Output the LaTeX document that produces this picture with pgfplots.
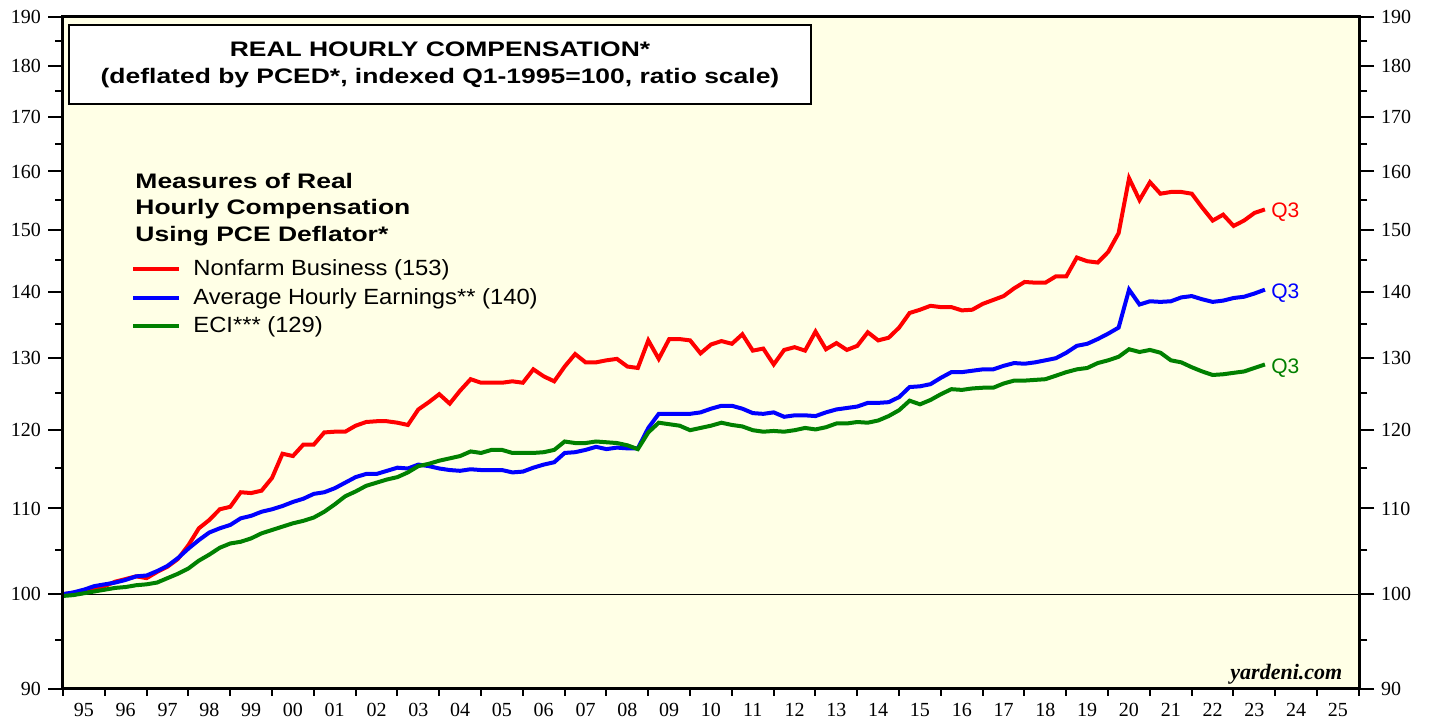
\documentclass[border=0pt]{standalone}
\usepackage{pgfplots}
\pgfplotsset{compat=1.18}
\usepackage{pgfplotstable}
\usepackage{graphicx}
\usepackage{fontspec}
\setmainfont{Liberation Serif}
\newfontfamily\arial{Liberation Sans}
\definecolor{bgyel}{RGB}{255,255,230}
\definecolor{ygreen}{RGB}{0,128,0}

% t = quarter position, nfb = nonfarm business, ahe = avg hourly earnings, eci = ECI
\pgfplotstableread{
t nfb ahe eci
1995.00 100.0 100.0 99.8
1995.25 100.15 100.2 99.9
1995.50 100.4 100.5 100.1
1995.75 100.6 100.9 100.3
1996.00 100.9 101.1 100.5
1996.25 101.4 101.3 100.7
1996.50 101.7 101.6 100.8
1996.75 102.0 102.0 101.0
1997.00 101.8 102.1 101.1
1997.25 102.5 102.6 101.3
1997.50 103.1 103.2 101.8
1997.75 104.0 104.1 102.3
1998.00 105.6 105.2 102.9
1998.25 107.6 106.2 103.8
1998.50 108.6 107.1 104.5
1998.75 109.9 107.6 105.3
1999.00 110.2 108.0 105.8
1999.25 112.0 108.8 106.0
1999.50 111.9 109.1 106.4
1999.75 112.2 109.6 107.0
2000.00 113.8 109.9 107.4
2000.25 116.9 110.3 107.8
2000.50 116.6 110.8 108.2
2000.75 118.1 111.2 108.5
2001.00 118.1 111.8 108.9
2001.25 119.7 112.0 109.6
2001.50 119.8 112.5 110.5
2001.75 119.8 113.2 111.5
2002.00 120.6 113.9 112.1
2002.25 121.1 114.3 112.8
2002.50 121.2 114.3 113.2
2002.75 121.2 114.7 113.6
2003.00 121.0 115.1 113.9
2003.25 120.7 115.0 114.5
2003.50 122.8 115.5 115.3
2003.75 123.8 115.3 115.6
2004.00 124.9 115.0 116.0
2004.25 123.6 114.8 116.3
2004.50 125.4 114.7 116.6
2004.75 127.0 114.9 117.2
2005.00 126.5 114.8 117.0
2005.25 126.5 114.8 117.4
2005.50 126.5 114.8 117.4
2005.75 126.7 114.5 117.0
2006.00 126.5 114.6 117.0
2006.25 128.4 115.1 117.0
2006.50 127.4 115.5 117.1
2006.75 126.7 115.8 117.4
2007.00 128.8 117.0 118.5
2007.25 130.6 117.1 118.3
2007.50 129.4 117.4 118.3
2007.75 129.4 117.8 118.5
2008.00 129.7 117.5 118.4
2008.25 129.9 117.7 118.3
2008.50 128.8 117.6 118.0
2008.75 128.6 117.6 117.5
2009.00 132.6 120.3 119.7
2009.25 129.9 122.2 121.0
2009.50 132.8 122.2 120.8
2009.75 132.8 122.2 120.6
2010.00 132.6 122.2 120.0
2010.25 130.7 122.4 120.3
2010.50 132.0 122.9 120.6
2010.75 132.5 123.3 121.0
2011.00 132.1 123.3 120.7
2011.25 133.5 122.9 120.5
2011.50 131.1 122.3 120.0
2011.75 131.4 122.2 119.8
2012.00 129.1 122.4 119.9
2012.25 131.2 121.8 119.8
2012.50 131.6 122.0 120.0
2012.75 131.1 122.0 120.3
2013.00 133.9 121.9 120.1
2013.25 131.3 122.4 120.4
2013.50 132.2 122.8 120.9
2013.75 131.2 123.0 120.9
2014.00 131.8 123.2 121.1
2014.25 133.8 123.7 121.0
2014.50 132.6 123.7 121.3
2014.75 133.0 123.8 121.9
2015.00 134.5 124.5 122.7
2015.25 136.7 125.9 124.0
2015.50 137.2 126.0 123.5
2015.75 137.8 126.3 124.1
2016.00 137.6 127.2 124.9
2016.25 137.6 128.0 125.6
2016.50 137.1 128.0 125.5
2016.75 137.2 128.2 125.7
2017.00 138.1 128.4 125.8
2017.25 138.7 128.4 125.8
2017.50 139.3 128.9 126.4
2017.75 140.5 129.3 126.8
2018.00 141.5 129.2 126.8
2018.25 141.4 129.4 126.9
2018.50 141.4 129.7 127.0
2018.75 142.4 130.0 127.5
2019.00 142.4 130.8 128.0
2019.25 145.4 131.8 128.4
2019.50 144.8 132.1 128.6
2019.75 144.6 132.8 129.3
2020.00 146.3 133.6 129.7
2020.25 149.4 134.5 130.2
2020.50 158.8 140.3 131.3
2020.75 155.0 138.0 130.9
2021.00 158.1 138.5 131.2
2021.25 156.1 138.4 130.8
2021.50 156.4 138.5 129.7
2021.75 156.4 139.1 129.4
2022.00 156.1 139.3 128.7
2022.25 153.7 138.8 128.1
2022.50 151.5 138.4 127.6
2022.75 152.5 138.6 127.7
2023.00 150.6 139.0 127.9
2023.25 151.5 139.2 128.1
2023.50 152.8 139.7 128.6
2023.75 153.4 140.3 129.1
}\comp

\begin{document}
\begin{tikzpicture}
\begin{axis}[scale only axis, width=648pt, height=336pt,
  xmin=1995, xmax=2026, ymode=log, ymin=90, ymax=190,
  axis line style={line width=1.5pt},
  tick style={black, line width=1pt}, tick align=outside,
  axis background/.style={fill=bgyel},
  xtick={1995,...,2025},
  xticklabels={95,96,97,98,99,00,01,02,03,04,05,06,07,08,09,10,11,12,13,14,15,16,17,18,19,20,21,22,23,24,25},
  extra x ticks={2026}, extra x tick labels={},
  xtick pos=left, major tick length=3.5pt,
  xticklabel style={xshift=10.45pt, font=\fontsize{10}{12}\selectfont},
  ytick=\empty,
  extra y ticks={100}, extra y tick labels={},
  extra y tick style={grid=major, major grid style={black, line width=0.6pt}},
  legend style={at={(rel axis cs:0.0525,0.6435)}, anchor=north west, draw=none, fill=none,
    font=\arial\fontsize{11}{13}\selectfont, row sep=1.75pt, column sep=4.5pt,
    inner sep=0pt, nodes={inner sep=1.5pt}},
  legend cell align=left,
  legend image code/.code={\draw[#1] (0pt,0pt) -- (23pt,0pt);},
]
\addplot[red, line width=2pt] table[x=t, y=nfb] {\comp};
\addlegendentry{\scalebox{1.08}[1]{Nonfarm Business (153)}}
\addplot[blue, line width=2pt] table[x=t, y=ahe] {\comp};
\addlegendentry{\scalebox{1.08}[1]{Average Hourly Earnings** (140)}}
\addplot[ygreen, line width=2pt] table[x=t, y=eci] {\comp};
\addlegendentry{\scalebox{1.08}[1]{ECI*** (129)}}

\node[draw, line width=1pt, fill=white, anchor=north west, minimum width=371pt,
  minimum height=39.5pt, align=center, inner sep=0pt,
  font=\arial\bfseries\fontsize{10.5}{13.5}\selectfont]
  at (rel axis cs:0.00386,0.9896)
  {\scalebox{1.26}[1]{REAL HOURLY COMPENSATION*}\\
   \scalebox{1.26}[1]{(deflated by PCED*, indexed Q1-1995=100, ratio scale)}};

\node[anchor=north west, align=left, inner sep=0pt,
  font=\arial\bfseries\fontsize{10.5}{13.25}\selectfont]
  at (rel axis cs:0.0556,0.768)
  {\scalebox{1.26}[1]{Measures of Real}\\
   \scalebox{1.26}[1]{Hourly Compensation}\\
   \scalebox{1.26}[1]{Using PCE Deflator*}};

\node[anchor=west, inner sep=0pt, xshift=3pt, yshift=-1.5pt, text=red, font=\arial\fontsize{10.5}{12}\selectfont]
  at (axis cs:2023.75,153.4) {Q3};
\node[anchor=west, inner sep=0pt, xshift=3pt, yshift=-1.5pt, text=blue, font=\arial\fontsize{10.5}{12}\selectfont]
  at (axis cs:2023.75,140.2) {Q3};
\node[anchor=west, inner sep=0pt, xshift=3pt, yshift=-1.5pt, text=ygreen, font=\arial\fontsize{10.5}{12}\selectfont]
  at (axis cs:2023.75,129.0) {Q3};

\node[anchor=base east, inner sep=0pt, font=\bfseries\itshape\fontsize{11}{13}\selectfont]
  at (rel axis cs:0.9874,0.0134) {yardeni.com};
\end{axis}

\begin{axis}[scale only axis, width=648pt, height=336pt,
  xmin=1995, xmax=2026, ymode=log, ymin=90, ymax=190,
  axis line style={line width=1.5pt},
  tick style={black, line width=1pt}, tick align=outside,
  hide x axis,
  ytick={90,100,110,120,130,140,150,160,170,180,190},
  yticklabels={90,100,110,120,130,140,150,160,170,180,190},
  minor ytick={95,105,115,125,135,145,155,165,175,185},
  major tick length=7.5pt, minor tick length=4pt,
  ytick pos=both, yticklabel pos=left,
  yticklabel style={font=\fontsize{10}{12}\selectfont}]
\end{axis}

\begin{axis}[scale only axis, width=648pt, height=336pt,
  xmin=1995, xmax=2026, ymode=log, ymin=90, ymax=190,
  axis line style={line width=1.5pt},
  tick style={black, line width=1pt}, tick align=outside,
  hide x axis,
  ytick={90,100,110,120,130,140,150,160,170,180,190},
  yticklabels={90,100,110,120,130,140,150,160,170,180,190},
  minor ytick={95,105,115,125,135,145,155,165,175,185},
  major tick length=7.5pt, minor tick length=4pt,
  ytick pos=both, yticklabel pos=right,
  yticklabel style={font=\fontsize{10}{12}\selectfont}]
\end{axis}

\pgfresetboundingbox
\path (-31.5pt,-16pt) rectangle (683pt,344.5pt);
\end{tikzpicture}
\end{document}
